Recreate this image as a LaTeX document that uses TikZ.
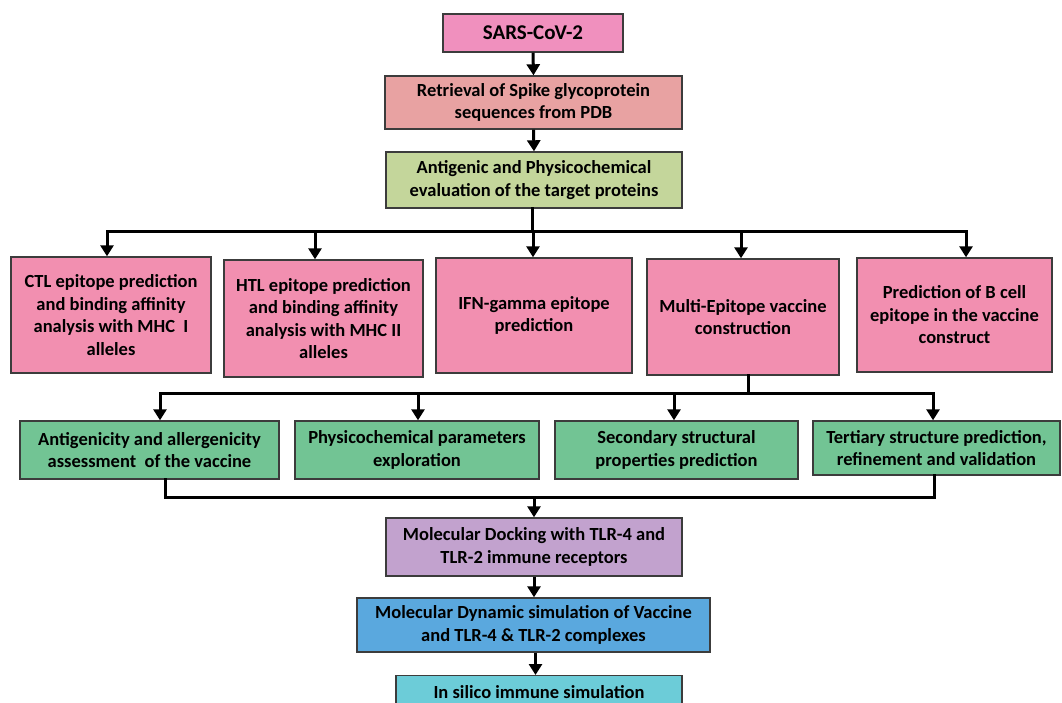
\documentclass[tikz,border=0pt]{standalone}
\usepackage{fontspec}
\setmainfont{Carlito}
\usetikzlibrary{arrows.meta}
\definecolor{cSars}{RGB}{240,144,190}
\definecolor{cRet}{RGB}{232,162,162}
\definecolor{cAnt}{RGB}{196,214,155}
\definecolor{cPink}{RGB}{242,143,176}
\definecolor{cGreen}{RGB}{114,196,148}
\definecolor{cDock}{RGB}{194,162,206}
\definecolor{cMD}{RGB}{90,168,222}
\definecolor{cSil}{RGB}{108,204,216}
\definecolor{cBorder}{RGB}{60,60,60}
\tikzset{
  box/.style={draw=cBorder, line width=1.4pt, inner sep=0pt, align=center,
    font=\bfseries\fontsize{18.5}{22.5}\selectfont},
  conn/.style={line width=3pt, -{Triangle[width=13pt,length=11pt]}},
  busline/.style={line width=3pt, line join=miter, line cap=rect},
}
\begin{document}
\begin{tikzpicture}[x=1pt,y=-1pt]
\fill[white] (0,0) rectangle (1062,703);
\useasboundingbox (0,0) rectangle (1062,703);
% top chain
\node[box, fill=cSars, minimum width=180pt, minimum height=38pt,
  font=\bfseries\fontsize{21}{25}\selectfont] (sars) at (533,33) {SARS-CoV-2};
\node[box, fill=cRet, minimum width=297pt, minimum height=53pt] (ret) at (533.5,102.5)
  {Retrieval of Spike glycoprotein\\sequences from PDB};
\node[box, fill=cAnt, minimum width=296pt, minimum height=56pt] (anti) at (534,180)
  {Antigenic and Physicochemical\\evaluation of the target proteins};
% pink row
\node[box, fill=cPink, minimum width=200pt, minimum height=116pt] (ctl) at (111,315)
  {CTL epitope prediction\\and binding affinity\\analysis with MHC\ \ I\\alleles};
\node[box, fill=cPink, minimum width=199pt, minimum height=117pt] (htl) at (323.5,318.5)
  {HTL epitope prediction\\and binding affinity\\analysis with MHC II\\alleles};
\node[box, fill=cPink, minimum width=196pt, minimum height=115pt] (ifn) at (534,315.5)
  {IFN-gamma epitope\\prediction};
\node[box, fill=cPink, minimum width=192pt, minimum height=116pt] (multi) at (743,317)
  {Multi-Epitope vaccine\\construction};
\node[box, fill=cPink, minimum width=195pt, minimum height=114pt] (bcell) at (954.5,315)
  {Prediction of B cell\\epitope in the vaccine\\construct};
% green row
\node[box, fill=cGreen, minimum width=259pt, minimum height=58pt] (antg) at (149.5,450)
  {Antigenicity and allergenicity\\assessment\ \ of the vaccine};
\node[box, fill=cGreen, minimum width=244pt, minimum height=58pt] (phys) at (417,450)
  {Physicochemical parameters\\exploration};
\node[box, fill=cGreen, minimum width=243pt, minimum height=58pt] (sec) at (676.5,450)
  {Secondary structural\\properties prediction};
\node[box, fill=cGreen, minimum width=247pt, minimum height=54pt] (ter) at (936.5,448)
  {Tertiary structure prediction,\\refinement and validation};
% bottom chain
\node[box, fill=cDock, minimum width=296pt, minimum height=58pt] (dock) at (534,547)
  {Molecular Docking with TLR-4 and\\TLR-2 immune receptors};
\node[box, fill=cMD, minimum width=353pt, minimum height=54pt] (md) at (533.5,625)
  {Molecular Dynamic simulation of Vaccine\\and TLR-4 \& TLR-2 complexes};
\node[box, fill=cSil, minimum width=286pt, minimum height=33pt, anchor=north] (sil) at (539,675)
  {In silico immune simulation};
% connectors top
\draw[conn] (sars.south) -- (ret.north);
\draw[conn] (ret.south) -- (anti.north);
% first bus
\coordinate (busA) at (532,232);
\draw[busline] ([xshift=-2pt]anti.south) -- (busA);
\draw[busline] ([xshift=-4pt]ctl.north |- busA) -- ([xshift=11.5pt]bcell.north |- busA);
\draw[conn] ([xshift=-4pt]ctl.north |- busA) -- ([xshift=-4pt]ctl.north);
\draw[conn] ([xshift=-8.5pt]htl.north |- busA) -- ([xshift=-8.5pt]htl.north);
\draw[conn] ([xshift=-1pt]ifn.north |- busA) -- ([xshift=-1pt]ifn.north);
\draw[conn] ([xshift=-2pt]multi.north |- busA) -- ([xshift=-2pt]multi.north);
\draw[conn] ([xshift=11.5pt]bcell.north |- busA) -- ([xshift=11.5pt]bcell.north);
% second bus
\coordinate (busB) at (748,393);
\draw[busline] ([xshift=5pt]multi.south) -- (busB);
\draw[busline] ([xshift=10.5pt]antg.north |- busB) -- ([xshift=-3.5pt]ter.north |- busB);
\draw[conn] ([xshift=10.5pt]antg.north |- busB) -- ([xshift=10.5pt]antg.north);
\draw[conn] ([xshift=1pt]phys.north |- busB) -- ([xshift=1pt]phys.north);
\draw[conn] ([xshift=-2.5pt]sec.north |- busB) -- ([xshift=-2.5pt]sec.north);
\draw[conn] ([xshift=-3.5pt]ter.north |- busB) -- ([xshift=-3.5pt]ter.north);
% bottom bus
\coordinate (busC) at (534,497);
\draw[busline] ([xshift=15.5pt]antg.south) -- ([xshift=15.5pt]antg.south |- busC)
  -- ([xshift=-2.5pt]ter.south |- busC) -- ([xshift=-2.5pt]ter.south);
\draw[conn] (busC) -- (dock.north);
\draw[conn] (dock.south) -- (dock.south |- md.north);
\draw[conn] ([xshift=2pt]md.south) -- ([xshift=2pt]md.south |- sil.north);
\end{tikzpicture}
\end{document}
